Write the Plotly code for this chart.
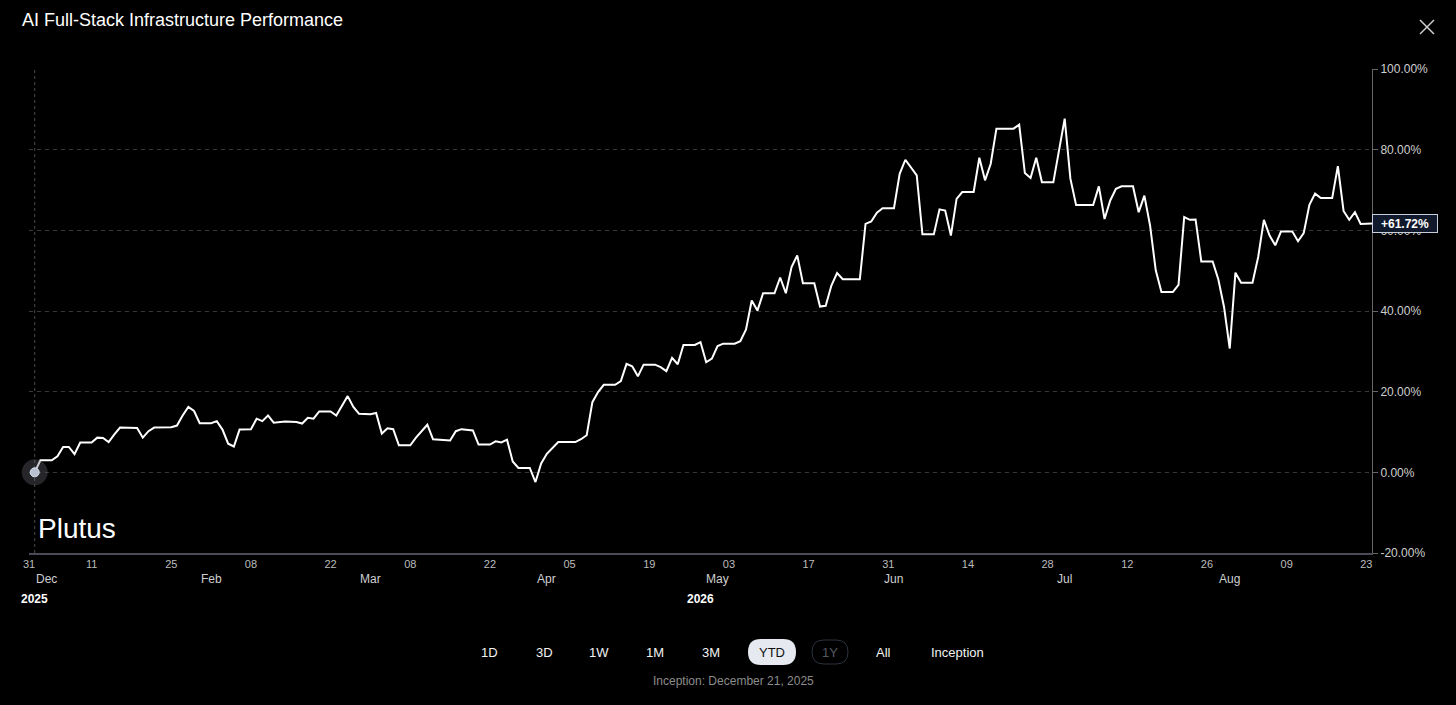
import plotly.graph_objects as go

# daily performance vertices (% since start of year)
dates = [
    "2026-01-01", "2026-01-02", "2026-01-04", "2026-01-05", "2026-01-06", "2026-01-07",
    "2026-01-08", "2026-01-09", "2026-01-11", "2026-01-12", "2026-01-13", "2026-01-14",
    "2026-01-15", "2026-01-16", "2026-01-19", "2026-01-20", "2026-01-21", "2026-01-22",
    "2026-01-25", "2026-01-26", "2026-01-27", "2026-01-28", "2026-01-29", "2026-01-30",
    "2026-02-01", "2026-02-02", "2026-02-03", "2026-02-04", "2026-02-05", "2026-02-06",
    "2026-02-08", "2026-02-09", "2026-02-10", "2026-02-11", "2026-02-12", "2026-02-14",
    "2026-02-16", "2026-02-17", "2026-02-18", "2026-02-19", "2026-02-20", "2026-02-22",
    "2026-02-23", "2026-02-25", "2026-02-26", "2026-02-27", "2026-03-01", "2026-03-02",
    "2026-03-03", "2026-03-04", "2026-03-05", "2026-03-06", "2026-03-08", "2026-03-09",
    "2026-03-11", "2026-03-12", "2026-03-15", "2026-03-16", "2026-03-17", "2026-03-19",
    "2026-03-20", "2026-03-22", "2026-03-23", "2026-03-24", "2026-03-25", "2026-03-26",
    "2026-03-27", "2026-03-29", "2026-03-30", "2026-03-31", "2026-04-01", "2026-04-03",
    "2026-04-06", "2026-04-07", "2026-04-08", "2026-04-09", "2026-04-10", "2026-04-11",
    "2026-04-13", "2026-04-14", "2026-04-15", "2026-04-16", "2026-04-17", "2026-04-18",
    "2026-04-20", "2026-04-21", "2026-04-22", "2026-04-23", "2026-04-24", "2026-04-25",
    "2026-04-27", "2026-04-28", "2026-04-29", "2026-04-30", "2026-05-01", "2026-05-02",
    "2026-05-04", "2026-05-05", "2026-05-06", "2026-05-07", "2026-05-08", "2026-05-09",
    "2026-05-11", "2026-05-12", "2026-05-13", "2026-05-14", "2026-05-15", "2026-05-16",
    "2026-05-18", "2026-05-19", "2026-05-20", "2026-05-21", "2026-05-22", "2026-05-23",
    "2026-05-26", "2026-05-27", "2026-05-28", "2026-05-29", "2026-05-30", "2026-06-01",
    "2026-06-02", "2026-06-03", "2026-06-05", "2026-06-06", "2026-06-08", "2026-06-09",
    "2026-06-10", "2026-06-11", "2026-06-12", "2026-06-13", "2026-06-15", "2026-06-16",
    "2026-06-17", "2026-06-18", "2026-06-19", "2026-06-22", "2026-06-23", "2026-06-24",
    "2026-06-25", "2026-06-26", "2026-06-27", "2026-06-29", "2026-07-01", "2026-07-02",
    "2026-07-03", "2026-07-06", "2026-07-07", "2026-07-08", "2026-07-09", "2026-07-10",
    "2026-07-11", "2026-07-13", "2026-07-14", "2026-07-15", "2026-07-16", "2026-07-17",
    "2026-07-18", "2026-07-20", "2026-07-21", "2026-07-22", "2026-07-23", "2026-07-24",
    "2026-07-25", "2026-07-27", "2026-07-28", "2026-07-29", "2026-07-30", "2026-07-31",
    "2026-08-01", "2026-08-03", "2026-08-04", "2026-08-05", "2026-08-06", "2026-08-07",
    "2026-08-08", "2026-08-10", "2026-08-11", "2026-08-12", "2026-08-13", "2026-08-14",
    "2026-08-15", "2026-08-17", "2026-08-18", "2026-08-19", "2026-08-20", "2026-08-21",
    "2026-08-22", "2026-08-24",
]
perf = [
    0.0, 3.0, 3.0, 4.0, 6.3, 6.3,
    4.5, 7.4, 7.4, 8.6, 8.5, 7.5,
    9.4, 11.1, 11.0, 8.6, 10.2, 11.1,
    11.2, 11.6, 14.1, 16.2, 15.2, 12.2,
    12.2, 12.7, 10.6, 7.1, 6.4, 10.6,
    10.7, 13.3, 12.7, 14.1, 12.3, 12.6,
    12.5, 12.1, 13.5, 13.3, 15.1, 15.1,
    14.1, 18.9, 16.2, 14.5, 14.4, 14.7,
    9.6, 10.9, 10.7, 6.7, 6.7, 8.6,
    11.8, 8.2, 7.9, 10.2, 10.7, 10.4,
    6.9, 6.9, 7.7, 7.4, 8.1, 2.7,
    1.1, 1.1, -2.4, 2.2, 4.6, 7.5,
    7.5, 8.2, 9.2, 17.4, 19.9, 21.7,
    21.7, 22.6, 26.9, 26.3, 23.8, 26.7,
    26.7, 26.1, 25.1, 28.4, 26.8, 31.6,
    31.6, 32.3, 27.3, 28.2, 31.3, 31.9,
    31.9, 32.5, 35.4, 42.6, 40.1, 44.4,
    44.4, 48.3, 44.4, 50.9, 53.8, 46.9,
    46.9, 41.1, 41.3, 46.3, 49.4, 47.9,
    47.9, 61.6, 62.2, 64.4, 65.5, 65.5,
    74.0, 77.5, 73.6, 59.0, 59.0, 65.2,
    64.9, 58.7, 67.8, 69.5, 69.5, 78.0,
    72.4, 76.5, 85.2, 85.2, 86.2, 74.2,
    73.0, 78.0, 71.9, 71.9, 87.7, 72.8,
    66.3, 66.3, 70.9, 62.8, 67.4, 70.3,
    70.9, 70.9, 64.5, 68.6, 61.2, 50.1,
    44.7, 44.7, 46.5, 63.3, 62.6, 62.7,
    52.3, 52.3, 47.8, 41.0, 30.7, 49.5,
    47.0, 47.0, 53.4, 62.6, 58.7, 56.3,
    59.7, 59.7, 57.3, 59.3, 66.3, 69.1,
    68.0, 68.0, 75.9, 64.8, 62.6, 64.5,
    61.6, 61.72,
]

tick_dates = [
    "2025-12-31", "2026-01-11", "2026-01-25", "2026-02-08", "2026-02-22", "2026-03-08",
    "2026-03-22", "2026-04-05", "2026-04-19", "2026-05-03", "2026-05-17", "2026-05-31",
    "2026-06-14", "2026-06-28", "2026-07-12", "2026-07-26", "2026-08-09", "2026-08-23",
]
tick_text = ["31", "11", "25", "08", "22", "08", "22", "05", "19",
             "03", "17", "31", "14", "28", "12", "26", "09", "23"]
month_dates = ["2026-01-03", "2026-02-01", "2026-03-01", "2026-04-01",
               "2026-05-01", "2026-06-01", "2026-07-01", "2026-07-30"]
month_text = ["Dec", "Feb", "Mar", "Apr", "May", "Jun", "Jul", "Aug"]
year_dates = ["2026-01-01", "2026-04-28"]
year_text = ["2025", "2026"]
y_ticks = [-20, 0, 20, 40, 60, 80, 100]
range_buttons = ["1D", "3D", "1W", "1M", "3M", "YTD", "1Y", "All", "Inception"]

W, H = 1456, 705
L, R, T, B = 29, 84, 69, 152
plot_w = W - L - R
plot_h = H - T - B
FONT = "Liberation Sans, Arial, sans-serif"


def px(x):
    return (x - L) / plot_w


def py(y):
    return (H - B - y) / plot_h


def pill(w, h):
    r = h / 2
    a = w / 2 - r
    hw = w / 2
    return (f"M {-a},{-r} L {a},{-r} Q {hw},{-r} {hw},0 Q {hw},{r} {a},{r} "
            f"L {-a},{r} Q {-hw},{r} {-hw},0 Q {-hw},{-r} {-a},{-r} Z")


fig = go.Figure()
fig.add_trace(go.Scatter(x=dates, y=perf, mode="lines",
                         line=dict(color="white", width=2), hoverinfo="skip"))
fig.add_trace(go.Scatter(x=[dates[0]], y=[perf[0]], mode="markers", cliponaxis=False,
                         marker=dict(size=26, color="rgba(110,110,120,0.35)"),
                         hoverinfo="skip"))
fig.add_trace(go.Scatter(x=[dates[0]], y=[perf[0]], mode="markers", cliponaxis=False,
                         marker=dict(size=9, color="#b9c1d1",
                                     line=dict(color="#dde3ee", width=1)),
                         hoverinfo="skip"))

# crosshair at first point
fig.add_shape(type="line", x0=dates[0], x1=dates[0], yref="paper", y0=0, y1=1,
              line=dict(color="#4a4a4a", width=1, dash="dot"), layer="below")

# x-axis month / year labels
for d, t in zip(month_dates, month_text):
    fig.add_annotation(x=d, xref="x", y=0, yref="paper", yanchor="middle", yshift=-26,
                       text=t, showarrow=False,
                       font=dict(size=12, color="#cfcfcf", family=FONT))
for d, t in zip(year_dates, year_text):
    fig.add_annotation(x=d, xref="x", y=0, yref="paper", yanchor="middle", yshift=-46,
                       text=f"<b>{t}</b>", showarrow=False,
                       font=dict(size=12, color="white", family=FONT))

# watermark
fig.add_annotation(x=dates[0], xref="x", xanchor="left", xshift=1,
                   y=py(528), yref="paper", yanchor="middle",
                   text="Plutus", showarrow=False,
                   font=dict(size=28, color="white", family=FONT))

# last value badge
fig.add_annotation(x=1, xref="paper", xanchor="left", xshift=0,
                   y=perf[-1], yref="y", yanchor="middle",
                   text=f"<b>+{perf[-1]:.2f}%</b>", showarrow=False,
                   width=62, height=15, borderpad=1,
                   bgcolor="#111a2c", bordercolor="#c8cfdc", borderwidth=1,
                   font=dict(size=12, color="white", family=FONT))

# range selector row
btn_px = [489, 544, 599, 655, 711, 772, 830, 883, 957]
fig.add_shape(type="path", xref="paper", yref="paper", xsizemode="pixel", ysizemode="pixel",
              xanchor=px(772), yanchor=py(652), path=pill(48, 26),
              fillcolor="#e6eaf0", line=dict(width=0), layer="above")
fig.add_shape(type="path", xref="paper", yref="paper", xsizemode="pixel", ysizemode="pixel",
              xanchor=px(830), yanchor=py(652), path=pill(36, 24),
              fillcolor="rgba(0,0,0,0)", line=dict(color="#2c323c", width=1), layer="above")
for label, bx in zip(range_buttons, btn_px):
    col = "#f2f2f2"
    if label == "YTD":
        col = "#111111"
    elif label == "1Y":
        col = "#555a62"
    fig.add_annotation(x=px(bx), xref="paper", y=py(652), yref="paper",
                       xanchor="center", yanchor="middle", text=label, showarrow=False,
                       font=dict(size=13, color=col, family=FONT))
fig.add_annotation(x=px(733), xref="paper", y=py(681), yref="paper",
                   xanchor="center", yanchor="middle",
                   text="Inception: December 21, 2025", showarrow=False,
                   font=dict(size=12, color="#8c8c8c", family=FONT))

# close icon
for y0, y1 in [(-7, 7), (7, -7)]:
    fig.add_shape(type="line", xref="paper", yref="paper", xsizemode="pixel",
                  ysizemode="pixel", xanchor=px(1427), yanchor=py(27),
                  x0=-7, x1=7, y0=y0, y1=y1, line=dict(color="#cfcfcf", width=1.5))

fig.update_layout(
    width=W, height=H, autosize=False,
    margin=dict(l=L, r=R, t=T, b=B),
    paper_bgcolor="black", plot_bgcolor="black",
    showlegend=False,
    title=dict(text="AI Full-Stack Infrastructure Performance",
               x=22 / W, xref="container", xanchor="left",
               y=1 - 20 / H, yref="container", yanchor="middle",
               font=dict(size=18, color="white", family=FONT)),
    xaxis=dict(type="date", range=["2025-12-31", "2026-08-24"],
               tickvals=tick_dates, ticktext=tick_text,
               showgrid=False, zeroline=False, showline=True,
               linecolor="#4a4a58", linewidth=2, ticks="",
               tickfont=dict(size=11, color="#bdbdbd", family=FONT)),
    yaxis=dict(side="right", range=[-20, 100], tickvals=y_ticks,
               ticktext=[f"{v:.2f}%" for v in y_ticks],
               showgrid=True, gridcolor="rgba(255,255,255,0.22)", griddash="4px,4px",
               zeroline=False, showline=True, linecolor="#666666", linewidth=1,
               ticks="outside", ticklen=5, tickcolor="#666666",
               tickfont=dict(size=12, color="#cfcfcf", family=FONT)),
)

fig.write_html("out.html", config={"displayModeBar": False},
               post_script="document.body.style.margin='0';"
                           "document.body.style.background='black';")
